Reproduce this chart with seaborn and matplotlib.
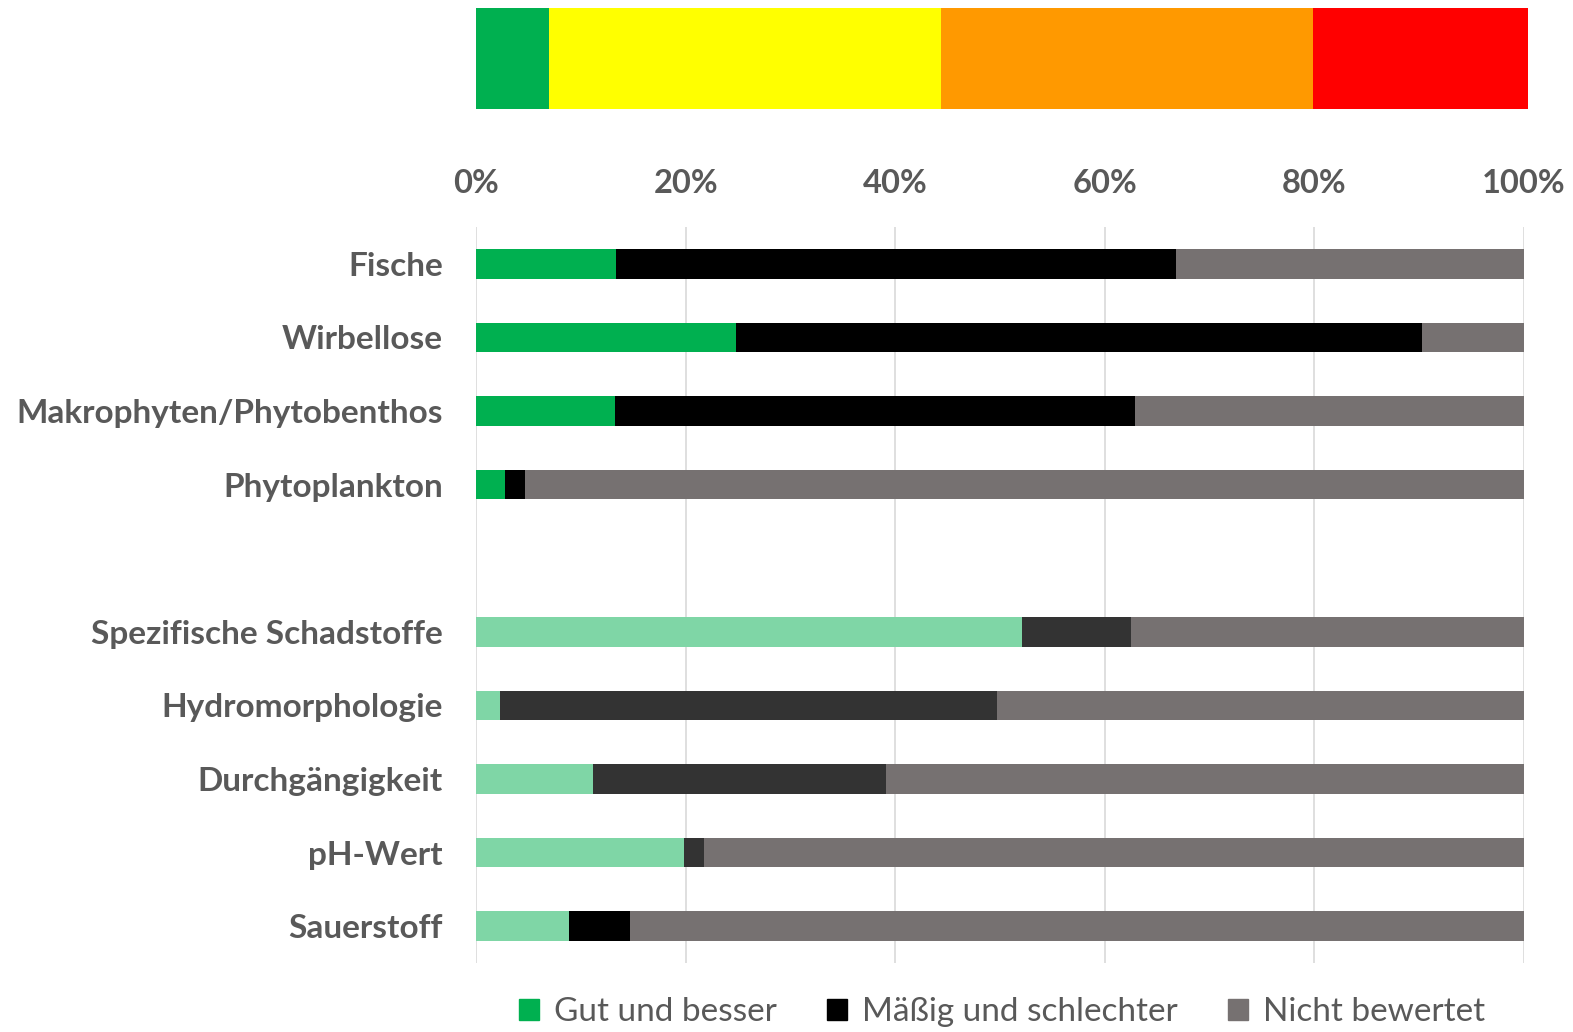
import matplotlib
matplotlib.use("Agg")
import matplotlib.pyplot as plt
import matplotlib.patches as mpatches
import seaborn as sns
import pandas as pd
import numpy as np

# ---- data ----
categories = ["Fische", "Wirbellose", "Makrophyten/Phytobenthos", "Phytoplankton", "",
              "Spezifische Schadstoffe", "Hydromorphologie", "Durchgängigkeit",
              "pH-Wert", "Sauerstoff"]
gut = [13.4, 24.8, 13.3, 2.8, np.nan, 52.1, 2.3, 11.2, 19.8, 8.9]
maessig = [53.4, 65.5, 49.6, 1.9, np.nan, 10.4, 47.4, 27.9, 2.0, 5.8]
nicht = [33.2, 9.7, 37.1, 95.3, np.nan, 37.5, 50.3, 60.9, 78.2, 85.3]

status_labels = ["sehr gut/gut", "mäßig", "unbefriedigend", "schlecht"]
status_values = [6.9, 37.3, 35.4, 20.4]
status_colors = ["#00B050", "#FFFF00", "#FF9900", "#FF0000"]

legend_labels = ["Gut und besser", "Mäßig und schlechter", "Nicht bewertet"]
xticks = [0, 20, 40, 60, 80, 100]

GREEN, LGREEN = "#00B050", "#7FD6A6"
BLACK, DARK = "#000000", "#333333"
GREY = "#767171"
green_cols = [GREEN] * 4 + [GREEN] + [LGREEN] * 5
black_cols = [BLACK] * 4 + [BLACK] + [DARK] * 4 + [BLACK]
TXT = "#595959"

sns.set_theme(style="white")
plt.rcParams["font.family"] = ["Lato", "DejaVu Sans"]

df = pd.DataFrame({"cat": categories, "gut": gut, "maessig": maessig, "nicht": nicht})
df["c1"] = df["gut"]
df["c2"] = df["gut"] + df["maessig"]
df["c3"] = df["c2"] + df["nicht"]
plot_df = df[df["cat"] != ""]

fig = plt.figure(figsize=(15.73, 10.32), dpi=100)

# ---- top status bar ----
axt = fig.add_axes([476 / 1573, 1 - 109 / 1032, 1052 / 1573, 101 / 1032])
sdf = pd.DataFrame({"lab": status_labels, "val": status_values})
sdf["cum"] = sdf["val"].cumsum()
for i in range(len(sdf) - 1, -1, -1):
    sub = pd.DataFrame({"row": ["s"], "cum": [sdf["cum"].iloc[i]]})
    sns.barplot(data=sub, x="cum", y="row", color=status_colors[i], width=1.0,
                saturation=1, ax=axt, edgecolor="none", linewidth=0)
axt.set_xlim(0, sdf["cum"].iloc[-1])
axt.set_ylim(0.5, -0.5)
axt.axis("off")

# ---- main chart ----
ax = fig.add_axes([476 / 1573, 1 - 963 / 1032, 1048 / 1573, 736 / 1032])
order = categories
for col, cols in [("c3", [GREY] * len(categories)), ("c2", black_cols), ("c1", green_cols)]:
    pal = {c: cols[i] for i, c in enumerate(categories) if c != ""}
    sns.barplot(data=plot_df, x=col, y="cat", hue="cat", order=order, hue_order=order[:4] + order[5:],
                palette=pal, saturation=1, width=0.4, legend=False, ax=ax,
                edgecolor="none", linewidth=0, dodge=False)

ax.set_xlim(0, 100)
ax.set_ylim(len(categories) - 0.5, -0.5)
ax.set_xticks(xticks)
ax.set_xticklabels([f"{t}%" for t in xticks])
ax.xaxis.tick_top()
ax.set_xlabel("")
ax.set_ylabel("")
ax.tick_params(axis="x", length=0, pad=21, labelsize=23.5, labelcolor=TXT)
ax.tick_params(axis="y", length=0, pad=24, labelsize=24, labelcolor=TXT)
for lab in ax.get_xticklabels() + ax.get_yticklabels():
    lab.set_fontweight("bold")
ax.grid(axis="x", color="#D9D9D9", linewidth=1.2)
ax.grid(axis="y", visible=False)
ax.set_axisbelow(True)
for s in ax.spines.values():
    s.set_visible(False)

handles = [mpatches.Patch(color=c) for c in [GREEN, BLACK, GREY]]
leg = fig.legend(handles, legend_labels, loc="center", bbox_to_anchor=(1002 / 1573, 1 - 1012 / 1032),
                 ncol=3, frameon=False, fontsize=24, handlelength=0.6, handleheight=0.6,
                 handletextpad=0.45, columnspacing=1.5)
for t in leg.get_texts():
    t.set_color(TXT)

fig.savefig("out.png", dpi=100)
